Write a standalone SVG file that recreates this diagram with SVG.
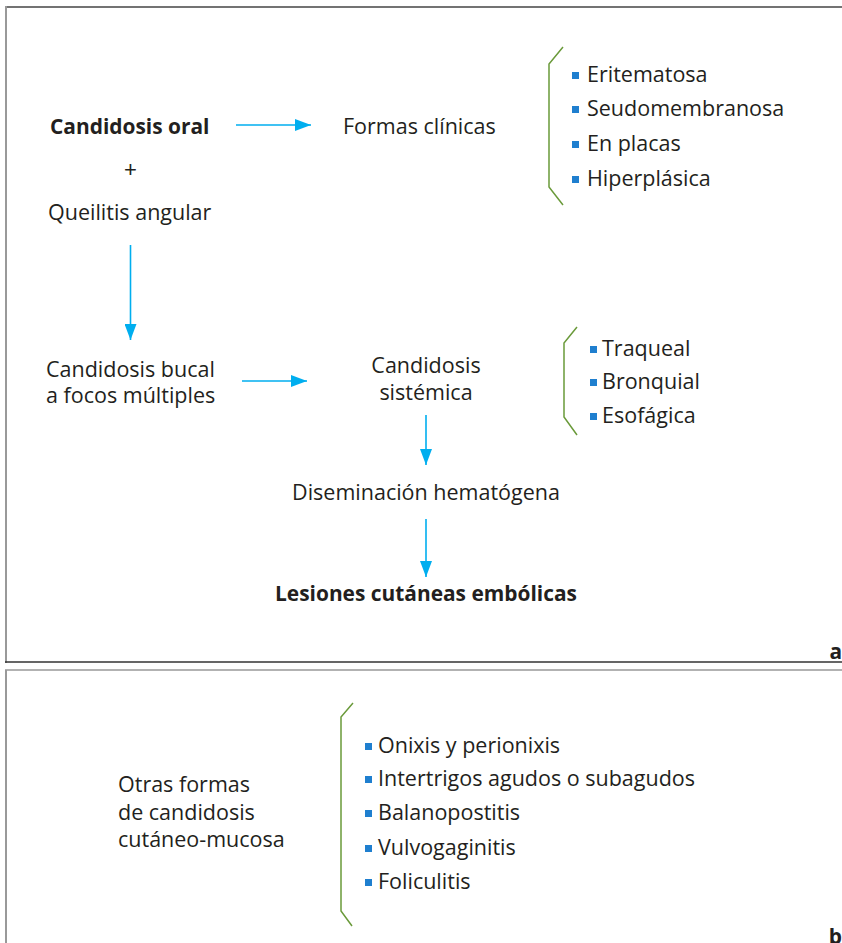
<svg xmlns="http://www.w3.org/2000/svg" width="842" height="943" viewBox="0 0 842 943">
<style>
text{font-family:"Open Sans","Noto Sans","Liberation Sans",sans-serif;font-size:21.5px;fill:#231f20}
.b{font-weight:bold;font-size:20.9px}
.m{text-anchor:middle}
.arr{stroke:#00aeef;stroke-width:1.6;fill:none}
.brace{stroke:#6a9a3a;stroke-width:1.5;fill:none}
.bul{fill:#1f7fcf}
</style>
<defs>
<marker id="ah" viewBox="0 0 16 12" refX="16" refY="6" markerWidth="16" markerHeight="12" markerUnits="userSpaceOnUse" orient="auto">
<path d="M0,0 L16,6 L0,12 Z" fill="#00aeef"/>
</marker>
</defs>
<rect width="842" height="943" fill="#fff"/>
<g id="frames">
<line x1="5" y1="7" x2="842" y2="7" stroke="#444" stroke-width="1.5"/>
<line x1="6" y1="6" x2="6" y2="663" stroke="#999" stroke-width="2"/>
<line x1="5" y1="662" x2="842" y2="662" stroke="#333" stroke-width="1.5"/>
<line x1="5" y1="670" x2="842" y2="670" stroke="#999" stroke-width="1.5"/>
<line x1="6" y1="670" x2="6" y2="943" stroke="#999" stroke-width="2"/>
<text class="b" x="842" y="659" text-anchor="end">a</text>
<text class="b" x="842" y="944" text-anchor="end">b</text>
</g>
<g id="connectors">
<line class="arr" x1="236" y1="125" x2="311" y2="125" marker-end="url(#ah)"/>
<line class="arr" x1="130.5" y1="245" x2="130.5" y2="340" marker-end="url(#ah)"/>
<line class="arr" x1="242" y1="381" x2="307" y2="381" marker-end="url(#ah)"/>
<line class="arr" x1="426" y1="415" x2="426" y2="465" marker-end="url(#ah)"/>
<line class="arr" x1="426" y1="519" x2="426" y2="577" marker-end="url(#ah)"/>
</g>
<g id="candidosis-oral"><text class="b" x="50" y="134">Candidosis oral</text></g>
<g id="plus"><text class="m" x="130.5" y="177" style="font-family:'Liberation Sans',sans-serif;font-size:22px">+</text></g>
<g id="queilitis"><text x="48" y="220">Queilitis angular</text></g>
<g id="formas-clinicas"><text x="343" y="134">Formas clínicas</text></g>
<g id="list-formas">
<path class="brace" d="M563,47 L549,64 L549,187 L563,205"/>
<rect class="bul" x="572" y="72" width="7" height="7"/>
<text x="587" y="82">Eritematosa</text>
<rect class="bul" x="572" y="106" width="7" height="7"/>
<text x="587" y="116">Seudomembranosa</text>
<rect class="bul" x="572" y="141" width="7" height="7"/>
<text x="587" y="151">En placas</text>
<rect class="bul" x="572" y="176" width="7" height="7"/>
<text x="587" y="186">Hiperplásica</text>
</g>
<g id="candidosis-bucal">
<text x="46" y="377">Candidosis bucal</text>
<text x="46" y="403">a focos múltiples</text>
</g>
<g id="candidosis-sistemica">
<text class="m" x="426" y="373">Candidosis</text>
<text class="m" x="426" y="400">sistémica</text>
</g>
<g id="list-sistemica">
<path class="brace" d="M577,327 L564,343 L564,417 L577,435"/>
<rect class="bul" x="590" y="346" width="7" height="7"/>
<text x="602" y="356">Traqueal</text>
<rect class="bul" x="590" y="379" width="7" height="7"/>
<text x="602" y="389">Bronquial</text>
<rect class="bul" x="590" y="413" width="7" height="7"/>
<text x="602" y="423">Esofágica</text>
</g>
<g id="diseminacion"><text class="m" x="426" y="500">Diseminación hematógena</text></g>
<g id="lesiones"><text class="b m" x="426" y="601">Lesiones cutáneas embólicas</text></g>
<g id="otras-formas">
<text x="118" y="792">Otras formas</text>
<text x="118" y="820">de candidosis</text>
<text x="118" y="847">cutáneo-mucosa</text>
</g>
<g id="list-otras">
<path class="brace" d="M353,703 L341,717 L341,911 L352,926"/>
<rect class="bul" x="365" y="743" width="7" height="7"/>
<text x="378" y="753">Onixis y perionixis</text>
<rect class="bul" x="365" y="776" width="7" height="7"/>
<text x="378" y="786">Intertrigos agudos o subagudos</text>
<rect class="bul" x="365" y="810" width="7" height="7"/>
<text x="378" y="820">Balanopostitis</text>
<rect class="bul" x="365" y="845" width="7" height="7"/>
<text x="378" y="855">Vulvogaginitis</text>
<rect class="bul" x="365" y="879" width="7" height="7"/>
<text x="378" y="889">Foliculitis</text>
</g>
</svg>
